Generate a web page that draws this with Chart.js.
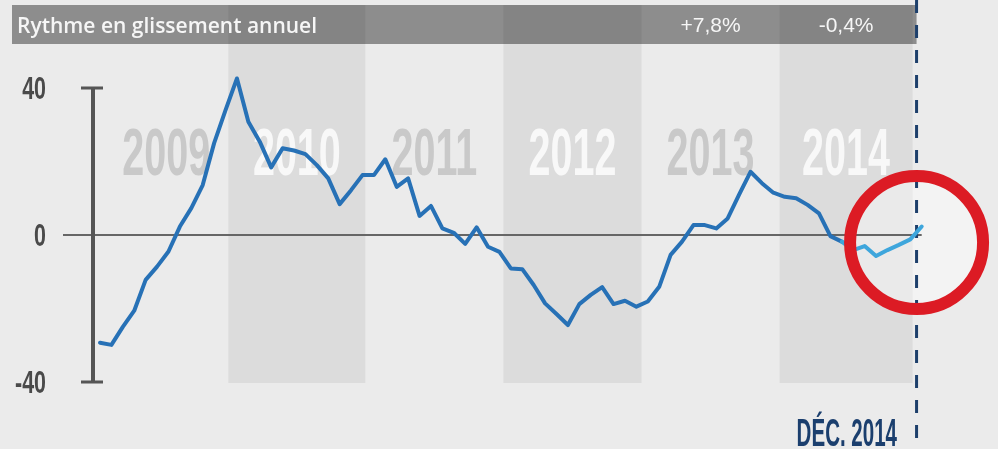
<!DOCTYPE html>
<html>
<head>
<meta charset="utf-8">
<script src="https://cdn.jsdelivr.net/npm/chart.js@4.4.0/dist/chart.umd.min.js"></script>
<style>
  html, body { margin: 0; padding: 0; background: #ebebeb; }
  #wrap { width: 998px; height: 449px; }
</style>
</head>
<body>
<div id="wrap"><canvas id="chart" width="998" height="449"></canvas></div>
<script>
// Monthly year-on-year rate (%), Jan 2009 -> Jan 2015
const values = [
  -29.3, -29.9, -25, -20.6, -12.2, -8.6, -4.5, 2.3, 7.3, 13.6,
  25, 34, 42.6, 30.8, 25.4, 18.4, 23.6, 23, 22, 19,
  15.4, 8.4, 12.2, 16.3, 16.3, 20.6, 13.1, 15.4, 5.2, 7.9,
  1.8, 0.6, -2.4, 2.1, -3.2, -4.6, -9.1, -9.3, -13.6, -18.6,
  -21.5, -24.5, -18.8, -16.3, -14.2, -18.8, -17.9, -19.5, -18.1, -14.1,
  -5.4, -1.8, 2.7, 2.7, 1.8, 4.5, 11, 17.2, 14.1, 11.5,
  10.4, 10, 8.2, 5.9, -0.3, -1.8, -4.1, -3, -5.7, -4.1,
  -2.7, -1.2, 2.3
];
const years = ['2009', '2010', '2011', '2012', '2013', '2014'];
const yearRates = ['', '', '', '', '+7,8%', '-0,4%'];
const yTicks = [40, 0, -40];
const title = 'Rythme en glissement annuel';
const markerLabel = 'DÉC. 2014';
const highlightFrom = 65; // index where the recent (light) stretch begins

const DARK_BLUE = '#2771b6';
const LIGHT_BLUE = '#3ea6dc';

/* condensed bold text: canvas has no condensed face, so squeeze it */
function narrowText(ctx, text, x, y, size, sx, color, align) {
  ctx.save();
  ctx.font = `bold ${size}px "Liberation Sans", Arial, sans-serif`;
  ctx.fillStyle = color;
  ctx.textAlign = align;
  ctx.textBaseline = 'alphabetic';
  ctx.translate(x, y);
  ctx.scale(sx, 1);
  ctx.fillText(text, 0, 0);
  ctx.restore();
}

const decorPlugin = {
  id: 'decor',
  beforeDraw(chart) {
    const { ctx, scales: { x, y } } = chart;
    const bandStart = [0, 11.25, 23.25, 35.35, 47.45, 59.55];
    const bandEnd = 71.2;
    const top = 5, bottom = 383;

    ctx.save();
    ctx.fillStyle = '#ebebeb';
    ctx.fillRect(0, 0, chart.width, chart.height);

    // alternating year bands + big year labels
    years.forEach((yr, i) => {
      const x0 = i === 0 ? x.getPixelForValue(-0.8) : x.getPixelForValue(bandStart[i]);
      const x1 = x.getPixelForValue(i < years.length - 1 ? bandStart[i + 1] : bandEnd);
      if (i % 2 === 1) {
        ctx.fillStyle = '#dcdcdc';
        ctx.fillRect(x0, top, x1 - x0, bottom - top);
      }
    });
    years.forEach((yr, i) => {
      const x0 = x.getPixelForValue(bandStart[i]);
      const x1 = x.getPixelForValue(i < years.length - 1 ? bandStart[i + 1] : bandEnd);
      narrowText(ctx, yr, (x0 + x1) / 2 + (i === 0 ? 2 : 0), 175, 67, 0.59, i % 2 === 1 ? '#f8f8f8' : '#c9c9c9', 'center');
    });

    // header bar
    const barL = 12, barR = x.getPixelForValue(71.55);
    ctx.fillStyle = 'rgba(0,0,0,0.4)';
    ctx.fillRect(barL, top, barR - barL, 39);
    ctx.fillStyle = '#f6f6f6';
    ctx.font = '600 21px "Open Sans", sans-serif';
    ctx.textAlign = 'left';
    ctx.textBaseline = 'alphabetic';
    ctx.fillText(title, 17, 33);
    ctx.font = '21px "Liberation Sans", Arial, sans-serif';
    ctx.textAlign = 'center';
    yearRates.forEach((r, i) => {
      if (!r) return;
      const x0 = x.getPixelForValue(bandStart[i]);
      const x1 = x.getPixelForValue(i < years.length - 1 ? bandStart[i + 1] : bandEnd);
      ctx.fillText(r, (x0 + x1) / 2, 32);
    });

    // highlight circle fill
    const cx = x.getPixelForValue(71.55), cy = 242.5;
    ctx.beginPath();
    ctx.arc(cx, cy, 66.5, 0, Math.PI * 2);
    ctx.fillStyle = 'rgba(255,255,255,0.4)';
    ctx.fill();

    // zero line
    const y0 = y.getPixelForValue(0);
    ctx.strokeStyle = '#666';
    ctx.lineWidth = 2;
    ctx.beginPath();
    ctx.moveTo(63, y0);
    ctx.lineTo(x.getPixelForValue(72), y0);
    ctx.stroke();

    // vertical axis with end ticks
    const yTop = y.getPixelForValue(40), yBot = y.getPixelForValue(-40);
    ctx.strokeStyle = '#555';
    ctx.lineWidth = 4;
    ctx.beginPath();
    ctx.moveTo(93, yTop);
    ctx.lineTo(93, yBot);
    ctx.stroke();
    ctx.lineWidth = 3;
    ctx.beginPath();
    ctx.moveTo(81, yTop); ctx.lineTo(103, yTop);
    ctx.moveTo(81, yBot); ctx.lineTo(103, yBot);
    ctx.stroke();

    yTicks.forEach(v => {
      narrowText(ctx, String(v), 46, y.getPixelForValue(v) + 11, 32, 0.67, '#4a4a4a', 'right');
    });
    ctx.restore();
  },
  beforeDatasetsDraw(chart) {
    const { ctx, scales: { x } } = chart;
    const dx = x.getPixelForValue(71.55);
    ctx.save();
    ctx.strokeStyle = '#1d3f6b';
    ctx.lineWidth = 3;
    ctx.setLineDash([13, 12]);
    ctx.beginPath();
    ctx.moveTo(dx, 0);
    ctx.lineTo(dx, chart.height);
    ctx.stroke();
    ctx.restore();
  },
  afterDatasetsDraw(chart) {
    const { ctx, scales: { x } } = chart;
    const cx = x.getPixelForValue(71.55), cy = 242.5;
    ctx.save();
    ctx.beginPath();
    ctx.arc(cx, cy, 66.5, 0, Math.PI * 2);
    ctx.strokeStyle = '#dc1b24';
    ctx.lineWidth = 12;
    ctx.stroke();
    narrowText(ctx, markerLabel, 897, 446, 38, 0.54, '#1b3f6e', 'right');
    ctx.restore();
  }
};

new Chart(document.getElementById('chart'), {
  type: 'line',
  data: {
    datasets: [{
      data: values.map((v, i) => ({ x: i, y: v })),
      borderColor: DARK_BLUE,
      borderWidth: 4,
      borderJoinStyle: 'round',
      borderCapStyle: 'round',
      pointRadius: 0,
      tension: 0,
      fill: false,
      clip: false,
      segment: {
        borderColor: c => (c.p0DataIndex >= highlightFrom ? LIGHT_BLUE : DARK_BLUE),
      },
    }],
  },
  options: {
    responsive: false,
    animation: false,
    events: [],
    layout: { padding: { left: 100, right: 76.3, top: 88, bottom: 67 } },
    scales: {
      x: { type: 'linear', min: 0, max: 72, display: false },
      y: { min: -40, max: 40, display: false },
    },
    plugins: { legend: { display: false }, tooltip: { enabled: false } },
  },
  plugins: [decorPlugin],
});
</script>
</body>
</html>
